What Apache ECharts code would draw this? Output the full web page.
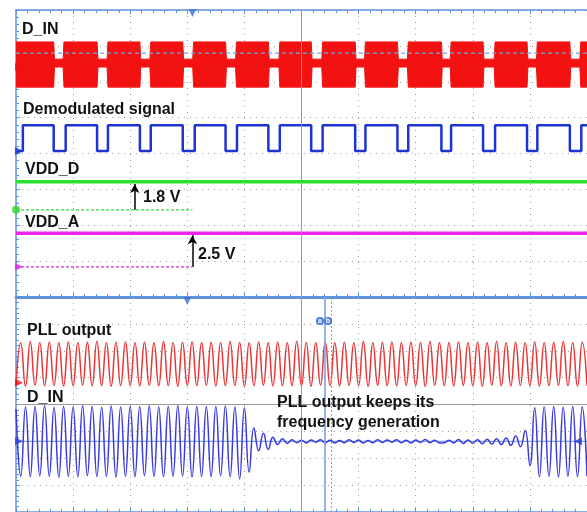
<!DOCTYPE html>
<html><head><meta charset="utf-8">
<script src="https://cdn.jsdelivr.net/npm/echarts@6/dist/echarts.min.js"></script>
<style>html,body{margin:0;padding:0;background:#fff}#c{width:587px;height:512px}</style>
</head><body><div id="c"></div><script>
// ---- data (time and amplitude in screen divisions) ----
// top panel: bursts of the modulated D_IN carrier [start, end]
const dinBursts = [[0.00,0.66],[0.84,1.42],[1.61,2.17],[2.36,2.92],[3.11,3.67],[3.86,4.42],[4.62,5.17],[5.37,5.94],[6.12,6.68],[6.87,7.45],[7.62,8.18],[8.39,8.95],[9.13,9.70],[9.89,10.0]];
const dinBurstLevels = [7.11, 5.85];   // envelope top / bottom during a burst
const dinGapLevels = [6.63, 6.41];     // envelope top / bottom between bursts
const dinRefLevel = 6.80;              // dashed reference marker
// demodulated signal: low intervals [start, end]
const demodLows = [[0.02,0.12],[0.66,0.87],[1.42,1.61],[2.17,2.36],[2.92,3.13],[3.67,3.87],[4.42,4.62],[5.17,5.37],[5.94,6.12],[6.68,6.87],[7.45,7.62],[8.18,8.39],[8.95,9.13],[9.70,9.90]];
const demodLevels = [4.79, 4.07];      // high, low
const vddDLevels = [3.21, 2.43];       // trace, ground reference (1.8 V)
const vddALevels = [1.78, 0.84];       // trace, ground reference (2.5 V)
const refLineEnd = 3.09;
const vddDArrowX = 2.08;
const vddAArrowX = 3.09;
// bottom panel: half-cycle extremes (offset from trace ground)
const pllGround = 5.50;
const pllExtremes = [
-0.80,0.80,-0.82,0.84,-0.78,0.80,-0.80,0.82,-0.79,0.80,
-0.81,0.83,-0.80,0.80,-0.78,0.82,-0.80,0.84,-0.79,0.80,
-0.82,0.81,-0.80,0.83,-0.79,0.80,-0.81,0.82,-0.78,0.80,
-0.80,0.84,-0.80,0.80,-0.82,0.81,-0.79,0.83,-0.80,0.80,
-0.78,0.82,-0.81,0.80,-0.80,0.84,-0.79,0.81,-0.82,0.80,
-0.80,0.83,-0.78,0.80,-0.81,0.82,-0.80,0.80,-0.79,0.84,
-0.80,0.81,-0.82,0.80,-0.78,0.83,-0.80,0.80,-0.81,0.82,
-0.79,0.80,-0.80,0.84,-0.82,0.80,-0.78,0.81,-0.80,0.83,
-0.81,0.80,-0.79,0.82,-0.80,0.80,-0.82,0.84,-0.78,0.80,
-0.80,0.81,-0.81,0.83,-0.79,0.80,-0.80,0.82,-0.82,0.80,
-0.78,0.84,-0.80,0.80,-0.81,0.82,-0.79,0.80,-0.80,0.83,
-0.82,0.80,-0.80,0.81,-0.78,0.84,-0.80,0.80,-0.81,0.82,
-0.80];
const dinRxGround = 2.63;
const dinRxExtremes = [
1.20,-1.30,1.28,-1.32,1.30,-1.28,1.32,-1.30,1.26,-1.33,
1.30,-1.30,1.28,-1.32,1.32,-1.28,1.30,-1.31,1.27,-1.30,
1.31,-1.33,1.28,-1.30,1.30,-1.32,1.29,-1.28,1.31,-1.30,
1.28,-1.32,1.30,-1.30,1.32,-1.29,1.28,-1.33,1.30,-1.30,
1.29,-1.31,1.30,-1.28,1.31,-1.32,1.28,-1.40,1.25,-1.15,
0.50,-0.35,0.30,-0.30,0.15,-0.12,0.10,-0.08,0.06,-0.05,
0.04,-0.06,0.05,-0.03,0.06,-0.05,0.04,-0.06,0.03,-0.05,
0.06,-0.04,0.05,-0.06,0.03,-0.05,0.06,-0.04,0.05,-0.03,
0.06,-0.05,0.04,-0.06,0.05,-0.04,0.07,-0.05,0.04,-0.06,
-0.05,0.04,-0.06,0.07,-0.08,0.05,-0.07,0.06,-0.09,0.08,
-0.10,0.10,-0.12,0.12,-0.15,0.20,-0.20,0.40,-0.90,1.25,
-1.32,1.28,-1.30,1.30,-1.33,1.27,-1.30,1.30,-1.32,1.28,
-1.30];
const cursorA = 5.40, cursorB = 5.52;
const bottomCenter = 4;

// ---- build ----
const FRAME = '#5f94dc';
const ramp = 0.015;
const envTop = [], envBot = [];
dinBursts.forEach((b, i) => {
  if (i > 0) { envTop.push([b[0] - ramp, dinGapLevels[0]]); envBot.push([b[0] - ramp, dinGapLevels[1]]); }
  envTop.push([b[0], dinBurstLevels[0]], [b[1], dinBurstLevels[0]]);
  envBot.push([b[0], dinBurstLevels[1]], [b[1], dinBurstLevels[1]]);
  if (i < dinBursts.length - 1) { envTop.push([b[1] + ramp, dinGapLevels[0]]); envBot.push([b[1] + ramp, dinGapLevels[1]]); }
});
const demod = [];
demodLows.forEach((l, i) => {
  if (i === 0) demod.push([l[0], demodLevels[1]]);
  else demod.push([l[0], demodLevels[0]], [l[0], demodLevels[1]]);
  demod.push([l[1], demodLevels[1]], [l[1], demodLevels[0]]);
});
demod.push([10, demodLevels[0]]);
const pll = pllExtremes.map(v => pllGround + v);
const dinRx = dinRxExtremes.map(v => dinRxGround + v);
const cats = pllExtremes.map((_, i) => i);

const dotted = { show: true, lineStyle: { color: '#a0a0a0', type: [1, 5], width: 1 } };
function valX(grid, pos, lineW, split) {
  return { gridIndex: grid, type: 'value', min: 0, max: 10, interval: 1, position: pos,
    axisLine: { show: true, onZero: false, lineStyle: { color: FRAME, width: lineW } },
    axisTick: { show: true, inside: true, length: 4, lineStyle: { color: FRAME } },
    minorTick: { show: true, splitNumber: 5, length: 3, lineStyle: { color: FRAME } },
    axisLabel: { show: false }, splitLine: split ? dotted : { show: false } };
}
function valY(grid) {
  return { gridIndex: grid, type: 'value', min: 0, max: 8, interval: 1, position: 'left',
    axisLine: { show: true, onZero: false, lineStyle: { color: FRAME, width: 1.5 } },
    axisTick: { show: true, inside: true, length: 4, lineStyle: { color: FRAME } },
    minorTick: { show: true, splitNumber: 5, length: 3, lineStyle: { color: FRAME } },
    axisLabel: { show: false }, splitLine: dotted };
}
function marker(xi, yi, x, y, color, rot, off, sym) {
  return { type: 'scatter', xAxisIndex: xi, yAxisIndex: yi, data: [[x, y]], symbol: sym || 'triangle',
    symbolSize: 8, symbolRotate: rot, symbolOffset: off, itemStyle: { color }, z: 5, silent: true };
}
const flat = (xi, yi, data, color, w, type, z) => ({ type: 'line', xAxisIndex: xi, yAxisIndex: yi, data,
  showSymbol: false, lineStyle: { color, width: w, type: type || 'solid' }, z: z || 2, silent: true, animation: false });

const series = [
  // top panel
  { type: 'line', xAxisIndex: 0, yAxisIndex: 0, data: envTop, showSymbol: false, z: 2,
    lineStyle: { color: '#f21212', width: 1 }, areaStyle: { color: '#f21212', opacity: 1, origin: 6.52 } },
  { type: 'line', xAxisIndex: 0, yAxisIndex: 0, data: envBot, showSymbol: false, z: 2,
    lineStyle: { color: '#f21212', width: 1 }, areaStyle: { color: '#f21212', opacity: 1, origin: 6.52 } },
  flat(0, 0, [[0, dinRefLevel], [10, dinRefLevel]], '#6ea6e6', 1.2, [4, 3], 3),
  flat(0, 0, demod, '#1d34d4', 2.5),
  flat(0, 0, [[0, vddDLevels[0]], [10, vddDLevels[0]]], '#2ee02e', 3.5),
  flat(0, 0, [[0, vddDLevels[1]], [refLineEnd, vddDLevels[1]]], '#33dd33', 1.3, [3, 2]),
  flat(0, 0, [[0, vddALevels[0]], [10, vddALevels[0]]], '#ee22ee', 3.5),
  flat(0, 0, [[0, vddALevels[1]], [refLineEnd, vddALevels[1]]], '#e02ce0', 1.3, [3, 2]),
  { type: 'line', xAxisIndex: 0, yAxisIndex: 0, data: [], silent: true,
    markLine: { silent: true, symbol: ['none', 'none'], label: { show: false }, animation: false,
      lineStyle: { color: '#9a9a9a', type: 'solid', width: 1 }, data: [{ xAxis: 5 }] } },
  { type: 'line', xAxisIndex: 0, yAxisIndex: 0, data: [], silent: true,
    markLine: { silent: true, symbol: ['none', 'arrow'], symbolSize: [7, 9], label: { show: false }, animation: false,
      lineStyle: { color: '#000', type: 'solid', width: 1.5 },
      data: [[{ coord: [vddDArrowX, vddDLevels[1]] }, { coord: [vddDArrowX, vddDLevels[0] - 0.06] }],
             [{ coord: [vddAArrowX, vddALevels[1]] }, { coord: [vddAArrowX, vddALevels[0] - 0.06] }]] } },
  marker(0, 0, 0, 6.41, '#ee1111', -90, [3, 0]),
  marker(0, 0, 0, demodLevels[1], '#1d34d4', -90, [3, 0]),
  marker(0, 0, 0, vddDLevels[1], '#2ed82e', 0, [0, 0], 'circle'),
  marker(0, 0, 0, vddALevels[1], '#e02ce0', -90, [3, 0]),
  marker(0, 0, refLineEnd, 8, '#3d6fd6', 180, [0, 3]),
  // bottom panel
  { type: 'line', xAxisIndex: 2, yAxisIndex: 1, data: [], silent: true,
    markLine: { silent: true, symbol: ['none', 'none'], label: { show: false }, animation: false,
      lineStyle: { color: '#9a9a9a', type: 'solid', width: 1 }, data: [{ xAxis: 5 }, { yAxis: bottomCenter }] } },
  flat(2, 1, [[0, dinRxGround], [10, dinRxGround]], '#7ea8ea', 1.2, 'solid', 1),
  { type: 'line', xAxisIndex: 3, yAxisIndex: 1, data: pll, smooth: 0.5, showSymbol: false, silent: true,
    lineStyle: { color: '#ec3434', width: 1.5 }, z: 3 },
  { type: 'line', xAxisIndex: 3, yAxisIndex: 1, data: dinRx, smooth: 0.5, showSymbol: false, silent: true,
    lineStyle: { color: '#3a3ade', width: 1.5 }, z: 3 },
  { type: 'line', xAxisIndex: 2, yAxisIndex: 1, data: [], silent: true,
    markLine: { silent: true, symbol: ['none', 'none'], label: { show: false }, animation: false,
      data: [{ xAxis: cursorA, lineStyle: { color: '#7c9ff0', type: 'solid', width: 1.6 } },
             { xAxis: cursorB, lineStyle: { color: '#7c9ff0', type: [2, 2], width: 1 } }] } },
  marker(2, 1, 0, pllGround - 0.69, '#ee1111', -90, [3, 0]),
  marker(2, 1, 0, dinRxGround, '#2b3fd8', -90, [3, 0]),
  marker(2, 1, 10, dinRxGround, '#2b3fd8', 90, [-9, 0]),
  marker(2, 1, 3.00, 8, '#3d6fd6', 180, [0, 4])
];

const T = (text, x, y, size) => ({ type: 'text', x, y, silent: true, z: 100,
  style: { text, fill: '#111', font: 'bold ' + (size || 16) + 'px "Liberation Sans", Arial, sans-serif', textVerticalAlign: 'middle' } });
const graphic = [
  T('D_IN', 22, 30), T('Demodulated signal', 23, 110), T('VDD_D', 25, 170), T('1.8 V', 143, 198),
  T('VDD_A', 25, 223), T('2.5 V', 198, 255), T('PLL output', 27, 331), T('D_IN', 27, 398),
  T('PLL output keeps its', 277, 403), T('frequency generation', 277, 423),
  { type: 'circle', shape: { cx: 320, cy: 321, r: 4 }, style: { fill: '#4a7be0' }, z: 100 },
  { type: 'circle', shape: { cx: 328, cy: 321, r: 4 }, style: { fill: '#4a7be0' }, z: 100 },
  { type: 'text', x: 320, y: 321, z: 101, style: { text: 'a', fill: '#fff', font: 'bold 7px sans-serif', textAlign: 'center', textVerticalAlign: 'middle' } },
  { type: 'text', x: 328, y: 321, z: 101, style: { text: 'b', fill: '#fff', font: 'bold 7px sans-serif', textAlign: 'center', textVerticalAlign: 'middle' } }
];

const chart = echarts.init(document.getElementById('c'), null, { renderer: 'canvas' });
chart.setOption({
  animation: false,
  backgroundColor: '#ffffff',
  grid: [
    { left: 16, top: 10, width: 572, height: 287 },
    { left: 16, top: 297, width: 572, height: 216 }
  ],
  xAxis: [
    valX(0, 'top', 1.5, true),
    valX(0, 'bottom', 3, false),
    valX(1, 'bottom', 1.5, true),
    { gridIndex: 1, type: 'category', data: cats, boundaryGap: false, show: false, position: 'top' }
  ],
  yAxis: [valY(0), valY(1)],
  series,
  graphic
});
</script></body></html>
